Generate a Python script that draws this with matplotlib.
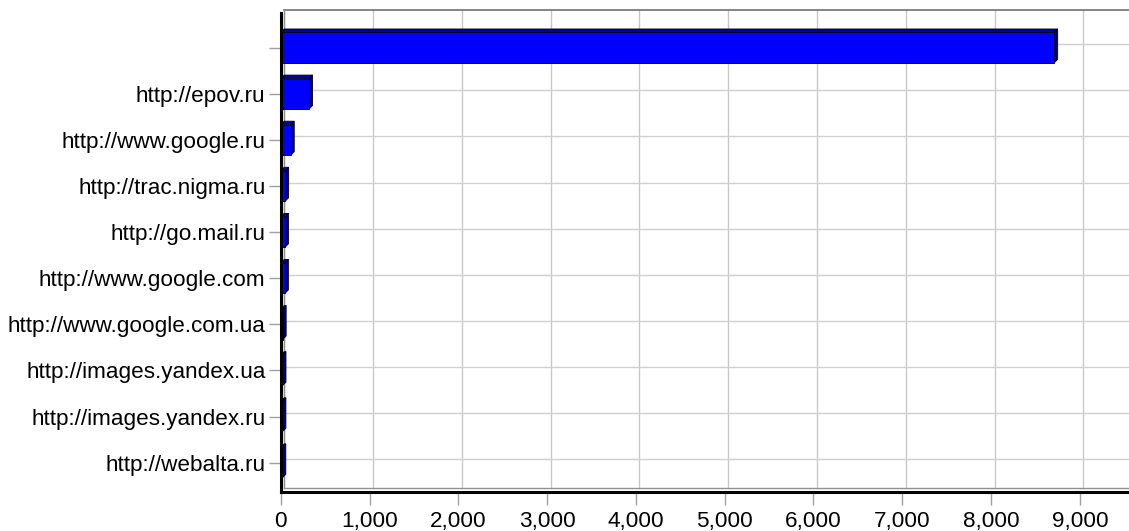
import matplotlib
matplotlib.use('Agg')
import matplotlib.pyplot as plt
from matplotlib.patches import Polygon
from matplotlib.lines import Line2D
import matplotlib.transforms as mtransforms

categories = ["", "http://epov.ru", "http://www.google.ru", "http://trac.nigma.ru",
              "http://go.mail.ru", "http://www.google.com", "http://www.google.com.ua",
              "http://images.yandex.ua", "http://images.yandex.ru", "http://webalta.ru"]
values = [8710, 319, 113, 50, 48, 47, 22, 20, 19, 18]
xticks = [0, 1000, 2000, 3000, 4000, 5000, 6000, 7000, 8000, 9000]
xticklabels = ["0", "1,000", "2,000", "3,000", "4,000", "5,000", "6,000", "7,000", "8,000", "9,000"]

plt.rcParams['font.family'] = ['Liberation Sans', 'DejaVu Sans']
FS = 16.2

W, H = 1129, 531
fig = plt.figure(figsize=(W / 100, H / 100), dpi=100)
left_px, right_px, top_px, bottom_px = 280.7, 1129, 13.5, 491.5
ax = fig.add_axes([left_px / W, 1 - bottom_px / H, (right_px - left_px) / W, (bottom_px - top_px) / H])

px_per_k = 88.8
xmax = (right_px - left_px) / px_per_k * 1000
slot = 46.1
c0 = 47.7
ax.set_xlim(0, xmax)
ax.set_ylim((bottom_px - c0) / slot, (top_px - c0) / slot)

dpx = 3.5
offset = mtransforms.ScaledTranslation(dpx / 100, dpx / 100, fig.dpi_scale_trans)

# back-wall gridlines
for x in xticks:
    ax.add_line(Line2D([x, x], [0, 1], transform=ax.get_xaxis_transform() + offset,
                       color='#c8c8c8', lw=1.0, clip_on=False, zorder=0))
for i in range(len(categories)):
    ax.add_line(Line2D([0, 1], [i, i], transform=ax.get_yaxis_transform() + offset,
                       color='#d0d0d0', lw=1.0, clip_on=False, zorder=0))
# frame edges of the 3D box
ax.add_line(Line2D([0, 1], [1, 1], transform=ax.transAxes + offset, color='#707070', lw=1.2, clip_on=False, zorder=1))
ax.add_line(Line2D([0, 1], [0, 0], transform=ax.transAxes + offset, color='#909090', lw=1.0, clip_on=False, zorder=1))
ax.add_line(Line2D([0, 0], [0, 1], transform=ax.transAxes + offset, color='#909090', lw=1.0, clip_on=False, zorder=1))

# 3D bars
dx = dpx * xmax / (right_px - left_px)
dy = dpx / slot
h = 0.66
for i, v in enumerate(values):
    yt, yb = i - h / 2, i + h / 2
    side = Polygon([(v, yt), (v, yb), (v + dx, yb - dy), (v + dx, yt - dy)], closed=True,
                   facecolor='#00007a', edgecolor='black', lw=0.6, zorder=3)
    top = Polygon([(0, yt), (v, yt), (v + dx, yt - dy), (dx, yt - dy)], closed=True,
                  facecolor='#0000a8', edgecolor='black', lw=0.6, zorder=3)
    front = Polygon([(0, yt), (v, yt), (v, yb), (0, yb)], closed=True,
                    facecolor='#0000ff', edgecolor='black', lw=0.6, zorder=4)
    ax.add_patch(side)
    ax.add_patch(top)
    ax.add_patch(front)

for s in ['top', 'right']:
    ax.spines[s].set_visible(False)
for s in ['left', 'bottom']:
    ax.spines[s].set_color('black')
    ax.spines[s].set_linewidth(2.2)
    ax.spines[s].set_zorder(5)

ax.set_yticks(range(len(categories)))
ax.set_yticklabels(categories, fontsize=FS)
ax.set_xticks(xticks)
ax.set_xticklabels(xticklabels, fontsize=FS)
ax.tick_params(axis='y', length=9, width=1, color='#a0a0a0', pad=2)
ax.tick_params(axis='x', length=9, width=1, color='#a0a0a0', pad=5)
ax.set_facecolor('white')

fig.savefig('out.png', dpi=100)
